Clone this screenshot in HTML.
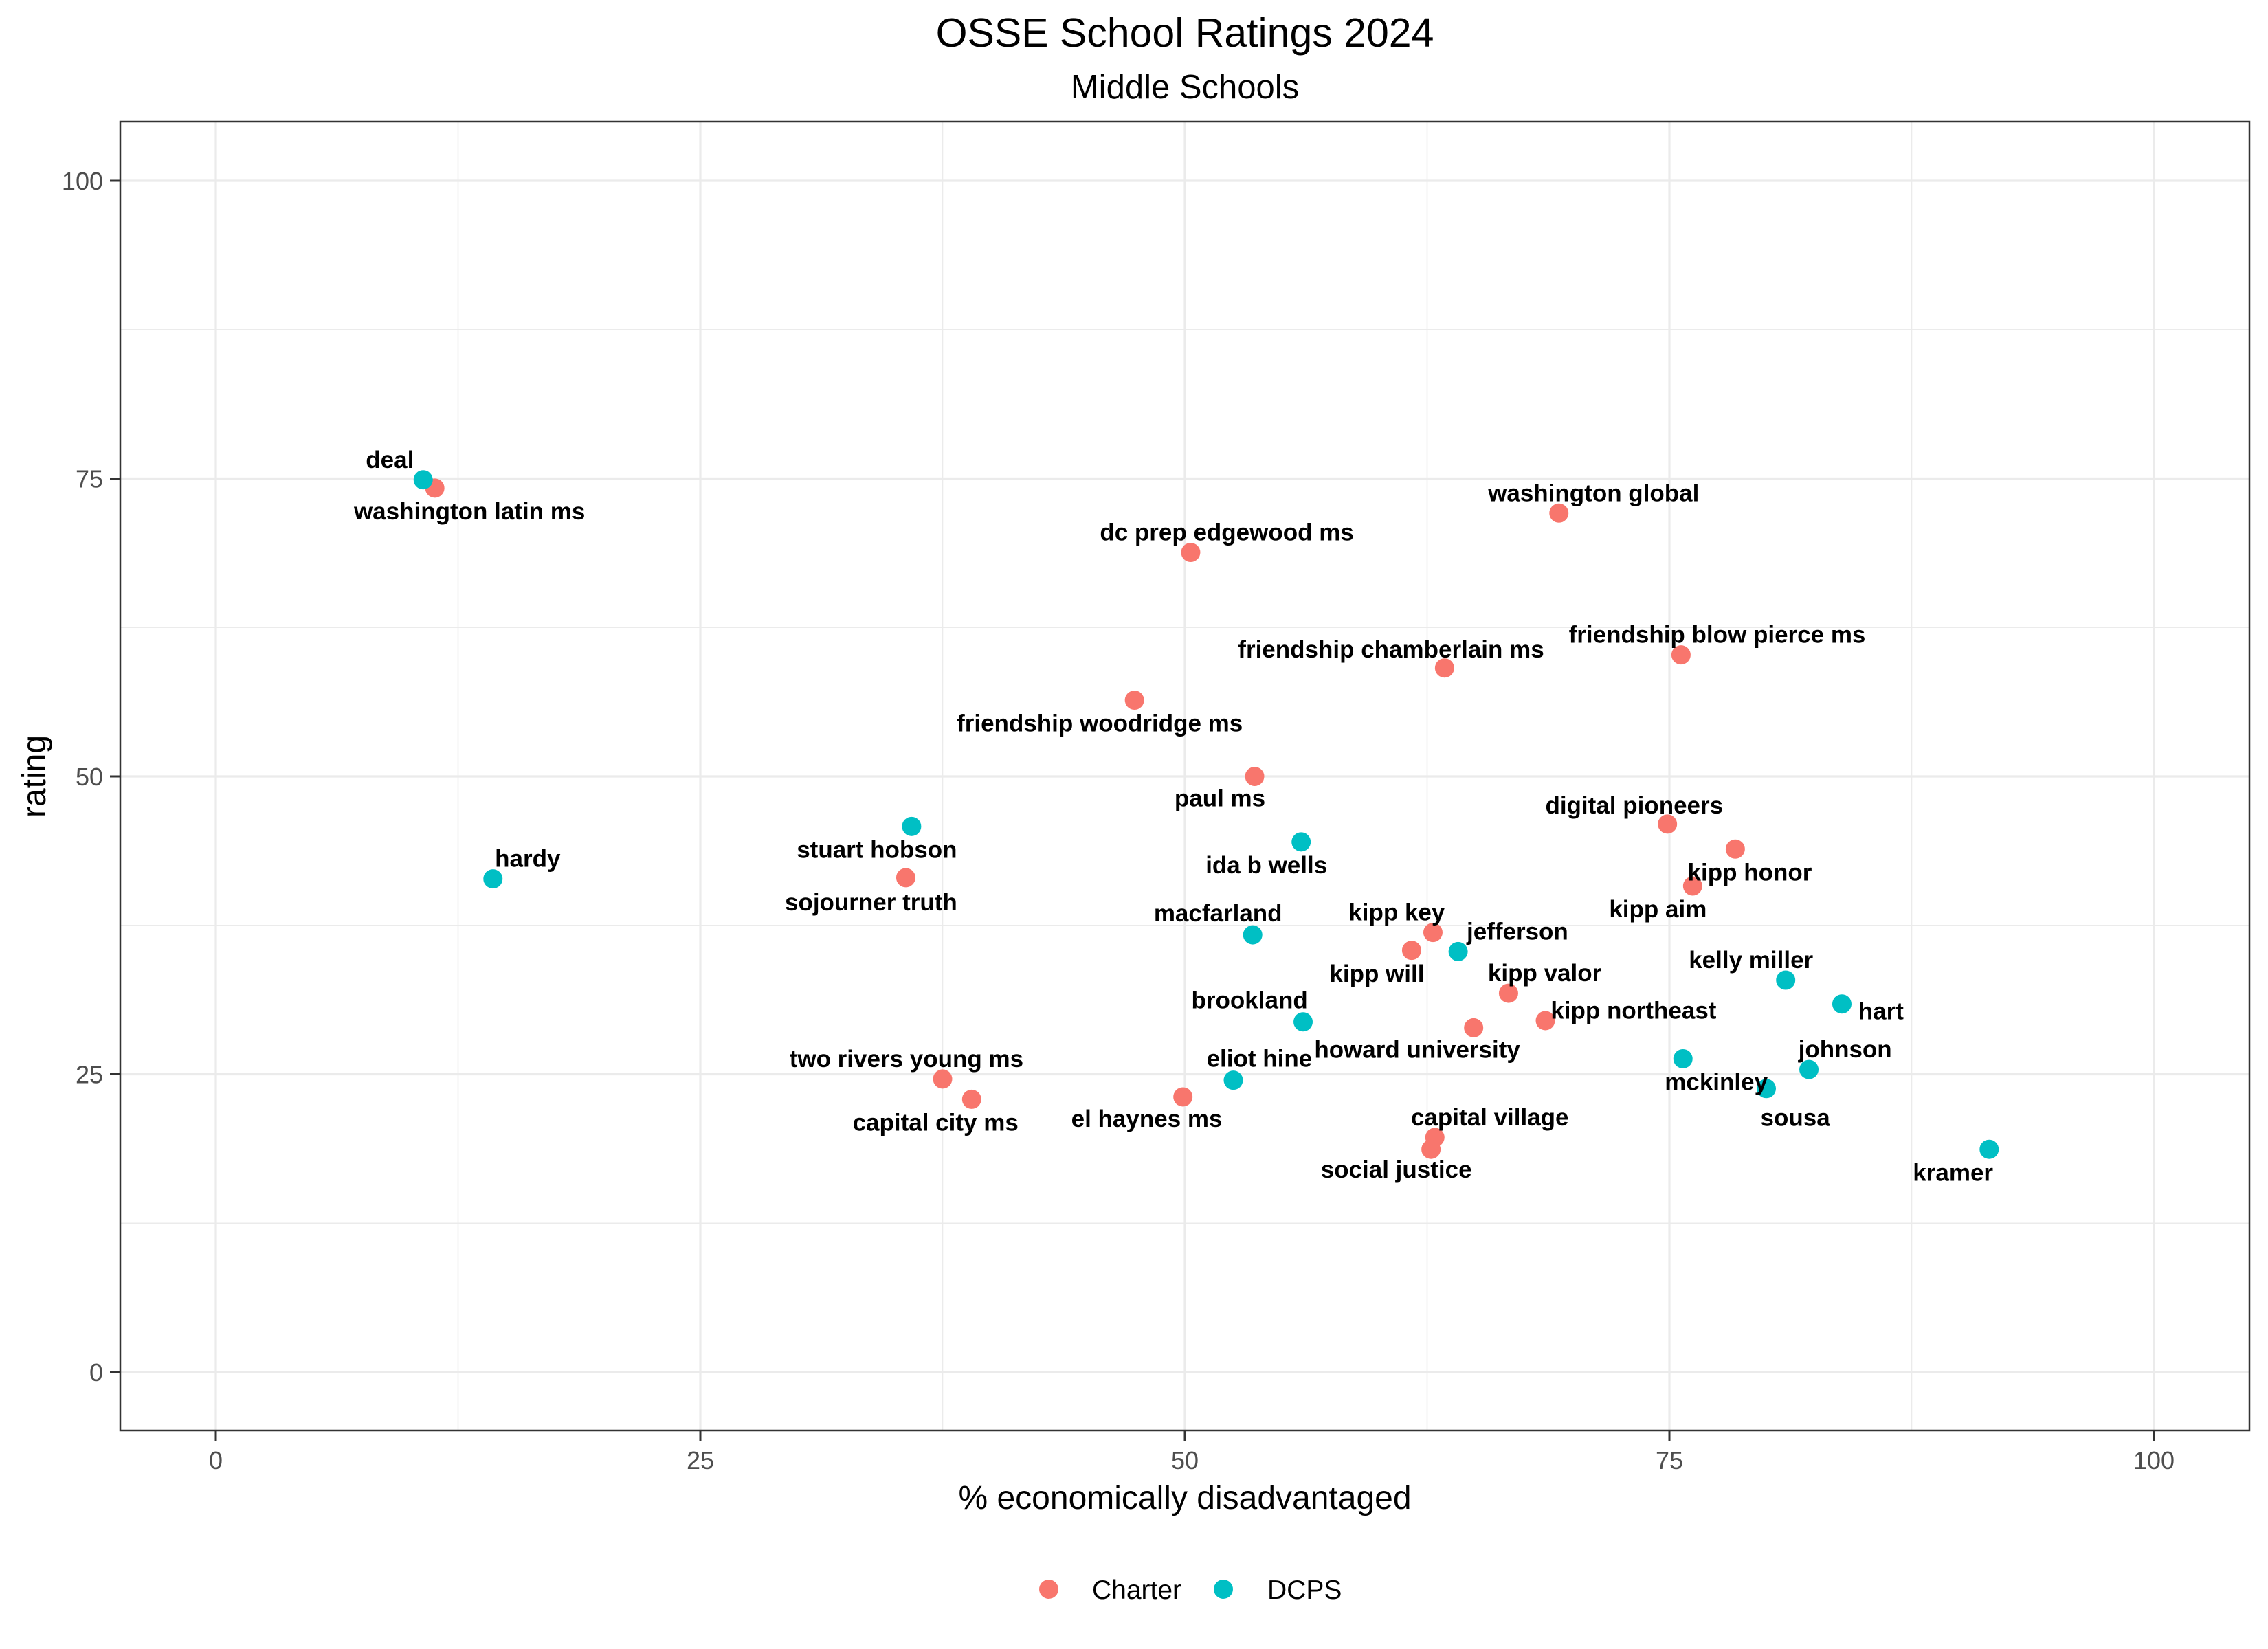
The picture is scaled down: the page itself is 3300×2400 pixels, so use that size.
<!DOCTYPE html>
<html><head><meta charset="utf-8"><style>
html,body{margin:0;padding:0;background:#fff}
svg{display:block}
text{font-family:"Liberation Sans",Arial,sans-serif}
</style></head><body>
<svg id="chart" width="3300" height="2400" viewBox="0 0 3300 2400" xmlns="http://www.w3.org/2000/svg">
<rect x="0" y="0" width="3300" height="2400" fill="#fff"/>
<text x="1724" y="68" font-size="59" text-anchor="middle" fill="#000">OSSE School Ratings 2024</text>
<text x="1724" y="143" font-size="49" text-anchor="middle" fill="#000">Middle Schools</text>
<g id="grid"></g>
<g id="points"></g>
<g id="labels"></g>
<rect x="175" y="177" width="3098" height="1905" fill="none" stroke="#333" stroke-width="2.5"/>
<g id="axes"></g>
<text x="1724" y="2196" font-size="48" text-anchor="middle" fill="#000">% economically disadvantaged</text>
<text transform="translate(66,1130) rotate(-90)" font-size="48" text-anchor="middle" fill="#000">rating</text>
<g>
<g>
<circle cx="1526" cy="2313" r="14" fill="#F8766D"/>
<text x="1589" y="2327" font-size="39" fill="#000">Charter</text>
</g>
<g>
<circle cx="1780" cy="2313" r="14" fill="#00BFC4"/>
<text x="1844" y="2327" font-size="39" fill="#000">DCPS</text>
</g>
</g>
</svg>
<script>
const schools = ["washington latin ms","dc prep edgewood ms","washington global","friendship chamberlain ms","friendship blow pierce ms","friendship woodridge ms","paul ms","digital pioneers","kipp honor","kipp aim","sojourner truth","kipp key","kipp will","kipp valor","kipp northeast","howard university","two rivers young ms","capital city ms","el haynes ms","capital village","social justice","deal","hardy","stuart hobson","ida b wells","macfarland","jefferson","brookland","eliot hine","kelly miller","hart","mckinley","johnson","sousa","kramer"];
const sector = ["Charter","Charter","Charter","Charter","Charter","Charter","Charter","Charter","Charter","Charter","Charter","Charter","Charter","Charter","Charter","Charter","Charter","Charter","Charter","Charter","Charter","DCPS","DCPS","DCPS","DCPS","DCPS","DCPS","DCPS","DCPS","DCPS","DCPS","DCPS","DCPS","DCPS","DCPS"];
const econDisadv = [11.3,50.3,69.3,63.4,75.6,47.4,53.6,74.9,78.4,76.2,35.6,62.8,61.7,66.7,68.6,64.9,37.5,39.0,49.9,62.9,62.7,10.7,14.3,35.9,56.0,53.5,64.1,56.1,52.5,81.0,83.9,75.7,82.2,80.0,91.5];
const rating = [74.2,68.8,72.1,59.1,60.2,56.4,50.0,46.0,43.9,40.8,41.5,36.9,35.4,31.8,29.5,28.9,24.6,22.9,23.1,19.7,18.7,74.9,41.4,45.8,44.5,36.7,35.3,29.4,24.5,32.9,30.9,26.3,25.4,23.8,18.7];
const xTicks = [0,25,50,75,100];
const yTicks = [0,25,50,75,100];
const minorTicks = [12.5,37.5,62.5,87.5];
// label offsets (layout, display px relative to point)
const labelDx = [24,25,24,-37,25,-24,-24,-23,10,-24,-24,-25,-24,25,61,-39,-25,-25,-25,38,-24,-23,24,-24,-24,-24,41,-37,18,-24,27,23,25,20,-25];
const labelDy = [16,-14,-14,-13,-14,16,15,-13,16,16,17,-14,16,-14,-7,15,-14,16,15,-14,14,-14,-14,16,16,-15,-14,-15,-15,-14,5,16,-14,20,16];

const NS="http://www.w3.org/2000/svg";
const X0=314,X1=3134,Y0=1997,Y1=263;
const sx=v=>X0+(X1-X0)*v/100;
const sy=v=>Y0+(Y1-Y0)*v/100;
const colors={Charter:"#F8766D",DCPS:"#00BFC4"};
function mk(tag,attrs,parent){const e=document.createElementNS(NS,tag);for(const k in attrs)e.setAttribute(k,attrs[k]);parent.appendChild(e);return e;}
const grid=document.getElementById('grid'),pts=document.getElementById('points'),lbl=document.getElementById('labels'),axes=document.getElementById('axes');
minorTicks.forEach(v=>{
  let l=mk('line',{x1:sx(v),x2:sx(v),y1:177,y2:2082,stroke:'#EBEBEB','stroke-width':1.6},grid);
  
  
  let m=mk('line',{x1:175,x2:3273,y1:sy(v),y2:sy(v),stroke:'#EBEBEB','stroke-width':1.6},grid);
  
  
});
xTicks.forEach(v=>{
  let l=mk('line',{x1:sx(v),x2:sx(v),y1:177,y2:2082,stroke:'#EBEBEB','stroke-width':3.2},grid);
  
  
  let t=mk('line',{x1:sx(v),x2:sx(v),y1:2082,y2:2097,stroke:'#333','stroke-width':3},axes);
  
  
  let tx=mk('text',{x:sx(v),y:2138,'font-size':36,'text-anchor':'middle',fill:'#4D4D4D'},axes);
  tx.textContent=v;
  
  
});
yTicks.forEach(v=>{
  let l=mk('line',{x1:175,x2:3273,y1:sy(v),y2:sy(v),stroke:'#EBEBEB','stroke-width':3.2},grid);
  
  
  let t=mk('line',{x1:160,x2:175,y1:sy(v),y2:sy(v),stroke:'#333','stroke-width':3},axes);
  
  
  let tx=mk('text',{x:150,y:sy(v)+13,'font-size':36,'text-anchor':'end',fill:'#4D4D4D'},axes);
  tx.textContent=v;
  
  
});
const S=2.1046;
schools.forEach((n,i)=>{
  const cx=sx(econDisadv[i]),cy=sy(rating[i]);
  let c=mk('circle',{cx:cx,cy:cy,r:14,fill:colors[sector[i]]},pts);
  
  
  let t=mk('text',{x:cx+labelDx[i]*S,y:cy+labelDy[i]*S+12,'font-size':35,'font-weight':'bold','text-anchor':'middle',fill:'#000'},lbl);
  t.textContent=n;
  
  
});
</script>
</body></html>
